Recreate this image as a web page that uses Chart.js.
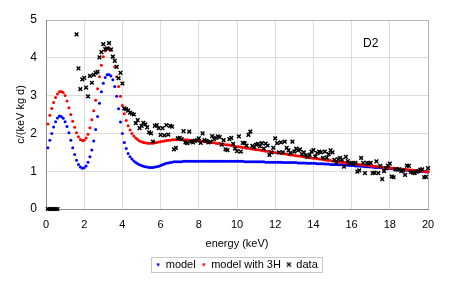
<!DOCTYPE html>
<html>
<head>
<meta charset="utf-8">
<script src="https://cdn.jsdelivr.net/npm/chart.js@4.4.0/dist/chart.umd.min.js"></script>
<style>
  html, body { margin: 0; padding: 0; background: #fff; }
  #wrap { width: 453px; height: 288px; }
</style>
</head>
<body>
<div id="wrap"><canvas id="myChart" width="453" height="288"></canvas></div>
<script>
// energies (keV) of the model curves
const modelEnergy = [
  0.1,0.2,0.3,0.4,0.5,0.6,0.7,0.8,0.9,1.0,
  1.1,1.2,1.3,1.4,1.5,1.6,1.7,1.8,1.9,2.0,
  2.1,2.2,2.3,2.4,2.5,2.6,2.7,2.8,2.9,3.0,
  3.1,3.2,3.3,3.4,3.5,3.6,3.7,3.8,3.9,4.0,
  4.1,4.2,4.3,4.4,4.5,4.6,4.7,4.8,4.9,5.0,
  5.1,5.2,5.3,5.4,5.5,5.6,5.7,5.8,5.9,6.0,
  6.1,6.2,6.3,6.4,6.5,6.6,6.7,6.8,6.9,7.0,
  7.1,7.2,7.3,7.4,7.5,7.6,7.7,7.8,7.9,8.0,
  8.1,8.2,8.3,8.4,8.5,8.6,8.7,8.8,8.9,9.0,
  9.1,9.2,9.3,9.4,9.5,9.6,9.7,9.8,9.9,10.0,
  10.1,10.2,10.3,10.4,10.5,10.6,10.7,10.8,10.9,11.0,
  11.1,11.2,11.3,11.4,11.5,11.6,11.7,11.8,11.9,12.0,
  12.1,12.2,12.3,12.4,12.5,12.6,12.7,12.8,12.9,13.0,
  13.1,13.2,13.3,13.4,13.5,13.6,13.7,13.8,13.9,14.0,
  14.1,14.2,14.3,14.4,14.5,14.6,14.7,14.8,14.9,15.0,
  15.1,15.2,15.3,15.4,15.5,15.6,15.7,15.8,15.9,16.0,
  16.1,16.2,16.3,16.4,16.5,16.6,16.7,16.8,16.9,17.0,
  17.1,17.2,17.3,17.4,17.5,17.6,17.7,17.8,17.9,18.0,
  18.1,18.2,18.3,18.4,18.5,18.6,18.7,18.8,18.9,19.0,
  19.1,19.2,19.3,19.4,19.5,19.6,19.7,19.8,19.9,20.0
];

// "model" (blue)
const modelValues = [
  1.62,1.82,2.00,2.17,2.31,2.41,2.46,2.45,2.40,2.31,
  2.18,2.02,1.82,1.62,1.44,1.29,1.18,1.11,1.08,1.09,
  1.14,1.24,1.38,1.56,1.80,2.10,2.45,2.80,3.10,3.33,
  3.48,3.55,3.56,3.52,3.42,3.24,2.98,2.65,2.30,2.00,
  1.76,1.60,1.47,1.38,1.32,1.27,1.23,1.20,1.17,1.15,
  1.13,1.12,1.11,1.10,1.10,1.10,1.11,1.12,1.13,1.15,
  1.17,1.19,1.21,1.22,1.23,1.24,1.25,1.25,1.25,1.25,
  1.25,1.26,1.26,1.26,1.26,1.26,1.26,1.26,1.26,1.26,
  1.26,1.26,1.26,1.26,1.26,1.26,1.26,1.26,1.26,1.26,
  1.26,1.26,1.26,1.26,1.26,1.26,1.26,1.26,1.26,1.26,
  1.26,1.26,1.26,1.25,1.25,1.25,1.25,1.25,1.25,1.25,
  1.25,1.25,1.25,1.25,1.24,1.24,1.24,1.24,1.24,1.24,
  1.24,1.24,1.24,1.23,1.23,1.23,1.23,1.23,1.23,1.23,
  1.23,1.22,1.22,1.22,1.22,1.22,1.21,1.21,1.21,1.21,
  1.21,1.20,1.20,1.20,1.20,1.19,1.19,1.19,1.18,1.18,
  1.18,1.18,1.17,1.17,1.17,1.16,1.16,1.16,1.15,1.15,
  1.15,1.14,1.14,1.14,1.13,1.13,1.12,1.12,1.12,1.11,
  1.11,1.10,1.10,1.10,1.09,1.09,1.08,1.08,1.07,1.07,
  1.07,1.06,1.06,1.05,1.05,1.04,1.04,1.03,1.03,1.02,
  1.02,1.02,1.01,1.01,1.00,1.00,0.99,0.99,0.98,0.98
];

// "model with 3H" (red)
const model3HValues = [
  2.25,2.48,2.66,2.82,2.95,3.04,3.10,3.11,3.08,3.00,
  2.86,2.68,2.50,2.32,2.16,2.02,1.91,1.84,1.81,1.82,
  1.88,1.98,2.15,2.36,2.60,2.88,3.18,3.50,3.80,4.03,
  4.18,4.25,4.26,4.20,4.02,3.76,3.50,3.24,2.98,2.74,
  2.52,2.34,2.20,2.09,2.00,1.93,1.88,1.84,1.80,1.78,
  1.76,1.75,1.74,1.74,1.74,1.74,1.75,1.76,1.77,1.78,
  1.79,1.80,1.81,1.82,1.82,1.83,1.83,1.83,1.83,1.83,
  1.83,1.83,1.83,1.83,1.82,1.82,1.82,1.81,1.81,1.80,
  1.80,1.79,1.78,1.78,1.77,1.76,1.76,1.75,1.74,1.73,
  1.73,1.72,1.71,1.70,1.70,1.69,1.68,1.67,1.66,1.65,
  1.65,1.64,1.63,1.62,1.61,1.61,1.60,1.59,1.58,1.57,
  1.57,1.56,1.55,1.54,1.53,1.53,1.52,1.51,1.50,1.49,
  1.49,1.48,1.47,1.46,1.46,1.45,1.44,1.43,1.43,1.42,
  1.41,1.40,1.40,1.39,1.38,1.37,1.37,1.36,1.35,1.34,
  1.34,1.33,1.32,1.32,1.31,1.30,1.29,1.29,1.28,1.27,
  1.27,1.26,1.25,1.25,1.24,1.23,1.23,1.22,1.21,1.21,
  1.20,1.19,1.19,1.18,1.17,1.17,1.16,1.16,1.15,1.14,
  1.14,1.13,1.13,1.12,1.11,1.11,1.10,1.10,1.09,1.09,
  1.08,1.08,1.07,1.07,1.06,1.06,1.05,1.05,1.04,1.04,
  1.03,1.03,1.02,1.02,1.01,1.01,1.00,1.00,0.99,0.99
];

// measured data
const dataEnergy = [
  0.1,0.2,0.3,0.4,0.5,0.6,
  1.6,1.7,1.8,1.9,2.0,
  2.1,2.2,2.3,2.4,2.5,2.6,2.7,2.8,2.9,3.0,
  3.1,3.2,3.3,3.4,3.5,3.6,3.7,3.8,3.9,4.0,
  4.1,4.2,4.3,4.4,4.5,4.6,4.7,4.8,4.9,5.0,
  5.1,5.2,5.3,5.4,5.5,5.6,5.7,5.8,5.9,6.0,
  6.1,6.2,6.3,6.4,6.5,6.6,6.7,6.8,6.9,7.0,
  7.1,7.2,7.3,7.4,7.5,7.6,7.7,7.8,7.9,8.0,
  8.1,8.2,8.3,8.4,8.5,8.6,8.7,8.8,8.9,9.0,
  9.1,9.2,9.3,9.4,9.5,9.6,9.7,9.8,9.9,10.0,
  10.1,10.2,10.3,10.4,10.5,10.6,10.7,10.8,10.9,11.0,
  11.1,11.2,11.3,11.4,11.5,11.6,11.7,11.8,11.9,12.0,
  12.1,12.2,12.3,12.4,12.5,12.6,12.7,12.8,12.9,13.0,
  13.1,13.2,13.3,13.4,13.5,13.6,13.7,13.8,13.9,14.0,
  14.1,14.2,14.3,14.4,14.5,14.6,14.7,14.8,14.9,15.0,
  15.1,15.2,15.3,15.4,15.5,15.6,15.7,15.8,15.9,16.0,
  16.1,16.2,16.3,16.4,16.5,16.6,16.7,16.8,16.9,17.0,
  17.1,17.2,17.3,17.4,17.5,17.6,17.7,17.8,17.9,18.0,
  18.1,18.2,18.3,18.4,18.5,18.6,18.7,18.8,18.9,19.0,
  19.1,19.2,19.3,19.4,19.5,19.6,19.7,19.8,19.9,20.0
];
const dataValues = [
  0,0,0,0,0,0,
  4.62,3.72,3.17,3.43,3.47,
  3.21,2.98,3.52,3.34,3.55,3.60,3.63,4.01,4.15,4.36,
  4.23,4.25,4.39,4.22,4.03,3.92,3.76,3.46,3.60,3.32,
  2.66,2.64,2.60,2.55,2.52,2.50,2.27,2.35,2.14,2.20,
  2.28,2.24,2.16,2.03,2.00,1.78,2.20,2.22,2.14,1.96,
  2.14,1.95,2.22,1.97,2.20,2.18,1.58,1.62,1.87,1.88,
  1.85,2.06,1.76,1.74,2.05,1.78,1.76,1.80,1.82,1.87,
  1.75,2.00,1.82,1.80,1.76,1.78,1.93,1.85,1.88,1.92,
  1.90,1.70,1.82,1.58,1.56,1.85,1.88,1.72,1.60,1.53,
  1.92,1.52,1.75,1.74,1.68,1.96,2.05,1.67,1.64,1.70,
  1.72,1.66,1.74,1.60,1.73,1.68,1.43,1.50,1.62,1.87,
  1.74,1.50,1.76,1.50,1.78,1.62,1.55,1.48,1.78,1.52,
  1.60,1.55,1.58,1.45,1.50,1.42,1.38,1.43,1.52,1.56,
  1.39,1.48,1.52,1.50,1.35,1.52,1.36,1.45,1.55,1.50,
  1.30,1.22,1.32,1.35,1.30,1.12,1.38,1.27,1.20,1.22,
  1.20,1.22,0.99,1.02,1.35,1.22,0.95,1.22,1.20,1.22,
  0.95,0.96,1.26,0.95,1.14,0.79,1.00,1.08,1.15,1.20,
  0.86,0.84,1.05,1.04,1.05,1.00,1.02,0.90,1.15,1.14,
  0.98,0.96,0.95,0.98,1.00,1.04,1.05,0.84,0.85,1.08
];

const xTickStep = 2;
const yTickStep = 1;
const panelLabel = 'D2';

const FONT = 'Liberation Sans, Arial, Helvetica, sans-serif';

function pairs(xs, ys) {
  return xs.map((x, i) => ({ x: x, y: ys[i] }));
}

// little canvases used as legend symbols
function dotIcon(color) {
  const c = document.createElement('canvas');
  c.width = 4; c.height = 4;
  const g = c.getContext('2d');
  g.fillStyle = color;
  g.beginPath();
  g.arc(2, 2, 1.4, 0, Math.PI * 2);
  g.fill();
  return c;
}
function crossIcon() {
  const c = document.createElement('canvas');
  c.width = 6; c.height = 6;
  const g = c.getContext('2d');
  g.strokeStyle = '#000';
  g.lineWidth = 1.2;
  g.beginPath();
  g.moveTo(1, 1); g.lineTo(5, 5);
  g.moveTo(5, 1); g.lineTo(1, 5);
  g.stroke();
  return c;
}
const legendIcons = [dotIcon('#0000ff'), dotIcon('#ff0000'), crossIcon()];

const extras = {
  id: 'extras',
  beforeInit(chart) {
    const fit = chart.legend.fit;
    chart.legend.fit = function () {
      fit.call(this);
      this.height = 33;
    };
  },
  afterDraw(chart) {
    const ctx = chart.ctx;
    const xs = chart.scales.x, ys = chart.scales.y;
    ctx.save();
    ctx.font = '12px ' + FONT;
    ctx.fillStyle = '#000';
    ctx.textAlign = 'center';
    ctx.textBaseline = 'middle';
    ctx.fillText(panelLabel, xs.getPixelForValue(17.0), ys.getPixelForValue(4.37));

    // frame round the legend
    const boxes = chart.legend.legendHitBoxes;
    if (boxes && boxes.length) {
      const l = Math.min(...boxes.map(b => b.left)) - 5;
      const r = Math.max(...boxes.map(b => b.left + b.width)) + 4;
      const t = Math.min(...boxes.map(b => b.top)) - 2;
      const bt = Math.max(...boxes.map(b => b.top + b.height)) + 2;
      ctx.strokeStyle = '#c8c8c8';
      ctx.lineWidth = 1;
      ctx.strokeRect(Math.round(l) + 0.5, Math.round(t) + 0.5, Math.round(r - l), Math.round(bt - t));
    }
    ctx.restore();
  }
};

const ctx = document.getElementById('myChart');

new Chart(ctx, {
  type: 'scatter',
  data: {
    datasets: [
      {
        label: 'model',
        data: pairs(modelEnergy, modelValues),
        backgroundColor: '#0000ff',
        borderColor: '#0000ff',
        pointRadius: 1.5,
        pointBorderWidth: 0,
        order: 3,
        clip: false
      },
      {
        label: 'model with 3H',
        data: pairs(modelEnergy, model3HValues),
        backgroundColor: '#ff0000',
        borderColor: '#ff0000',
        pointRadius: 1.5,
        pointBorderWidth: 0,
        order: 2,
        clip: false
      },
      {
        label: 'data',
        data: pairs(dataEnergy, dataValues),
        pointStyle: 'crossRot',
        backgroundColor: '#000000',
        borderColor: '#000000',
        pointRadius: 2.6,
        pointBorderWidth: 1.5,
        order: 1,
        clip: false
      }
    ]
  },
  options: {
    responsive: false,
    animation: false,
    devicePixelRatio: 1,
    layout: { padding: { top: 20, right: 25, left: 0, bottom: 2 } },
    plugins: {
      tooltip: { enabled: false },
      legend: {
        position: 'bottom',
        fullSize: false,
        labels: {
          font: { family: FONT, size: 11 },
          color: '#000',
          usePointStyle: true,
          boxWidth: 4,
          boxHeight: 4,
          padding: 6,
          sort: (a, b) => a.datasetIndex - b.datasetIndex,
          generateLabels(chart) {
            const items = Chart.defaults.plugins.legend.labels.generateLabels(chart);
            items.forEach(it => {
              it.pointStyle = legendIcons[it.datasetIndex];
            });
            return items;
          }
        }
      }
    },
    scales: {
      x: {
        type: 'linear',
        min: 0,
        max: 20,
        ticks: {
          stepSize: xTickStep,
          color: '#000',
          font: { family: FONT, size: 11 },
          padding: 9,
          maxRotation: 0
        },
        grid: {
          drawTicks: false,
          color: c => (c.tick && c.tick.value === 20) ? '#b4b4b4' : '#dcdcdc'
        },
        border: { color: '#8c8c8c' },
        title: {
          display: true,
          text: 'energy (keV)',
          color: '#000',
          font: { family: FONT, size: 11 },
          padding: { top: 0, bottom: 2 }
        },
        afterFit(s) { s.height = 44; }
      },
      y: {
        min: 0,
        max: 5,
        ticks: {
          stepSize: yTickStep,
          color: '#000',
          font: { family: FONT, size: 12 },
          padding: 9
        },
        grid: {
          drawTicks: false,
          color: c => (c.tick && c.tick.value === 5) ? '#b4b4b4' : '#dcdcdc'
        },
        border: { color: '#8c8c8c' },
        title: {
          display: true,
          text: 'c/(keV kg d)',
          color: '#000',
          font: { family: FONT, size: 11 },
          padding: { top: 14, bottom: 0 }
        },
        afterFit(s) { s.width = 46; }
      }
    }
  },
  plugins: [extras]
});
</script>
</body>
</html>
